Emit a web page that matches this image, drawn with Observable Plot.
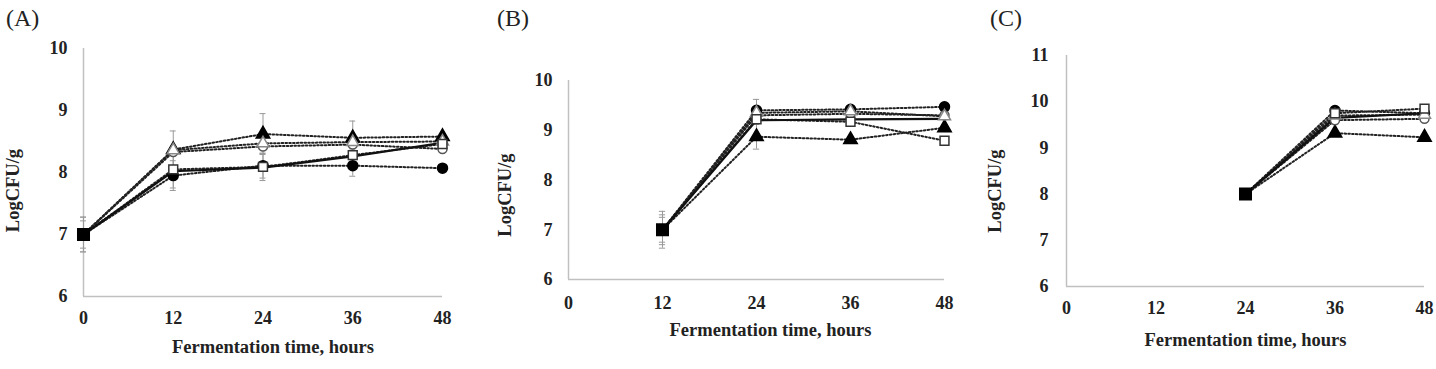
<!DOCTYPE html>
<html>
<head>
<meta charset="utf-8">
<script src="https://cdn.jsdelivr.net/npm/d3@7"></script>
<script src="https://cdn.jsdelivr.net/npm/@observablehq/plot@0.6"></script>
<style>
  html, body { margin: 0; padding: 0; background: #fff; }
  #root { position: relative; width: 1436px; height: 369px; overflow: hidden; }
  .panel { position: absolute; top: 0; }
  .tag { height: 30px; line-height: 36px; font-family: "Liberation Serif", serif; font-size: 24px; color: #222; }
</style>
</head>
<body>
<div id="root"></div>
<script>
// ---------------- data ----------------
const panelTags = ["(A)", "(B)", "(C)"];
const xTicks = [0, 12, 24, 36, 48];
const xTitle = "Fermentation time, hours";
const yTitle = "LogCFU/g";

// Panel A (start at 0 h)
const hoursA = [0, 12, 24, 36, 48];
const A_filledCircle   = [7.00, 7.95, 8.11, 8.11, 8.07];
const A_filledTriangle = [7.00, 8.37, 8.62, 8.56, 8.58];
const A_openCircle     = [7.00, 8.33, 8.42, 8.45, 8.38];
const A_openTriangle   = [7.00, 8.36, 8.47, 8.49, 8.50];
const A_openSquare     = [7.00, 8.05, 8.09, 8.28, 8.46];
const A_control        = [7.00, 8.02, 8.08, 8.26, 8.48];
const A_errTriangle    = [0.28, 0.30, 0.33, 0.27, 0.03];
const A_errCircle      = [0.28, 0.24, 0.20, 0.17, 0.03];
const A_errSquare      = [0.22, 0.30, 0.22, 0.10, 0.05];

// Panel B (start at 12 h)
const hoursB = [12, 24, 36, 48];
const B_filledCircle   = [7.00, 9.40, 9.42, 9.47];
const B_filledTriangle = [7.00, 8.87, 8.81, 9.05];
const B_openCircle     = [7.00, 9.30, 9.33, 9.30];
const B_openTriangle   = [7.00, 9.35, 9.38, 9.28];
const B_openSquare     = [7.00, 9.22, 9.17, 8.79];
const B_control        = [7.00, 9.20, 9.22, 9.23];
const B_errTriangle    = [0.37, 0.25, 0.05, 0.05];
const B_errCircle      = [0.30, 0.22, 0.05, 0.05];
const B_errSquare      = [0.25, 0.10, 0.05, 0.05];

// Panel C (start at 24 h)
const hoursC = [24, 36, 48];
const C_filledCircle   = [8.00, 9.81, 9.75];
const C_filledTriangle = [8.00, 9.32, 9.23];
const C_openCircle     = [8.00, 9.60, 9.63];
const C_openTriangle   = [8.00, 9.70, 9.72];
const C_openSquare     = [8.00, 9.75, 9.85];
const C_control        = [8.00, 9.65, 9.75];

// ---------------- styles ----------------
const seriesStyle = {
  filledCircle:   {symbol: "circle",   fill: "black", stroke: "black", r: 5},
  filledTriangle: {symbol: "triangle", fill: "black", stroke: "black", r: 5},
  openCircle:     {symbol: "circle",   fill: "white", stroke: "#555",  r: 4.5},
  openTriangle:   {symbol: "triangle", fill: "white", stroke: "#888",  r: 4.5},
  openSquare:     {symbol: "square",   fill: "white", stroke: "#333",  r: 5}
};
const dotted = "1.6,2.2";

function rows(hours, values, series, errs) {
  return hours.map((h, i) => ({hour: h, value: values[i], series, err: errs ? errs[i] : 0}));
}

const panels = [
  {
    left: 0, width: 470, tagPad: 6,
    margin: {top: 18, right: 28, bottom: 73, left: 83},
    yDomain: [6, 10], yTicks: [6, 7, 8, 9, 10],
    xPad: 15, yPad: 16, xTitleDx: 10, xTitleDy: 51, yTitleDx: -70, yTitleDy: 18,
    series: {
      filledCircle: rows(hoursA, A_filledCircle, "filledCircle", A_errCircle),
      filledTriangle: rows(hoursA, A_filledTriangle, "filledTriangle", A_errTriangle),
      openCircle: rows(hoursA, A_openCircle, "openCircle"),
      openTriangle: rows(hoursA, A_openTriangle, "openTriangle"),
      openSquare: rows(hoursA, A_openSquare, "openSquare", A_errSquare)
    },
    control: rows(hoursA, A_control, "control")
  },
  {
    left: 480, width: 480, tagPad: 17,
    margin: {top: 50, right: 16, bottom: 90, left: 88},
    yDomain: [6, 10], yTicks: [6, 7, 8, 9, 10],
    xPad: 17, yPad: 16, xTitleDx: 14, xTitleDy: 51, yTitleDx: -63, yTitleDy: 15,
    series: {
      filledCircle: rows(hoursB, B_filledCircle, "filledCircle", B_errCircle),
      filledTriangle: rows(hoursB, B_filledTriangle, "filledTriangle", B_errTriangle),
      openCircle: rows(hoursB, B_openCircle, "openCircle"),
      openTriangle: rows(hoursB, B_openTriangle, "openTriangle"),
      openSquare: rows(hoursB, B_openSquare, "openSquare", B_errSquare)
    },
    control: rows(hoursB, B_control, "control")
  },
  {
    left: 960, width: 476, tagPad: 30,
    margin: {top: 25, right: 12, bottom: 83, left: 106},
    yDomain: [6, 11], yTicks: [6, 7, 8, 9, 10, 11],
    xPad: 15, yPad: 18, xTitleDx: 0, xTitleDy: 54, yTitleDx: -71, yTitleDy: 20,
    series: {
      filledCircle: rows(hoursC, C_filledCircle, "filledCircle"),
      filledTriangle: rows(hoursC, C_filledTriangle, "filledTriangle"),
      openCircle: rows(hoursC, C_openCircle, "openCircle"),
      openTriangle: rows(hoursC, C_openTriangle, "openTriangle"),
      openSquare: rows(hoursC, C_openSquare, "openSquare")
    },
    control: rows(hoursC, C_control, "control")
  }
];

const root = document.getElementById("root");
const svgHeight = 339;

panels.forEach((p, idx) => {
  const div = document.createElement("div");
  div.className = "panel";
  div.style.left = p.left + "px";
  div.style.width = p.width + "px";
  const tag = document.createElement("div");
  tag.className = "tag";
  tag.style.paddingLeft = p.tagPad + "px";
  tag.textContent = panelTags[idx];
  div.appendChild(tag);

  const allRows = Object.values(p.series).flat();
  const errRows = allRows.filter(d => d.err > 0);
  const marks = [
    Plot.ruleX([0], {stroke: "#c0c0c0", strokeWidth: 1.5}),
    Plot.ruleY([p.yDomain[0]], {stroke: "#c0c0c0", strokeWidth: 1.5}),
    Plot.ruleX(errRows, {x: "hour", y1: d => d.value - d.err, y2: d => d.value + d.err, stroke: "#999", strokeWidth: 1}),
    Plot.ruleY(errRows, {y: d => d.value + d.err, x1: d => d.hour - 0.4, x2: d => d.hour + 0.4, stroke: "#999", strokeWidth: 1}),
    Plot.ruleY(errRows, {y: d => d.value - d.err, x1: d => d.hour - 0.4, x2: d => d.hour + 0.4, stroke: "#999", strokeWidth: 1}),
  ];
  Object.entries(p.series).forEach(([k, data]) => {
    marks.push(Plot.line(data, {x: "hour", y: "value", stroke: "#222", strokeWidth: 2, strokeDasharray: dotted}));
  });
  marks.push(Plot.line(p.control, {x: "hour", y: "value", stroke: "#111", strokeWidth: 2.2}));
  Object.entries(p.series).forEach(([k, data]) => {
    const s = seriesStyle[k];
    marks.push(Plot.dot(data.slice(1), {x: "hour", y: "value", symbol: s.symbol, r: s.r, fill: s.fill, stroke: s.stroke, strokeWidth: 1.5}));
  });
  marks.push(Plot.dot(p.control.slice(0, 1), {x: "hour", y: "value", symbol: "square", r: 6.5, fill: "black", stroke: "black"}));
  marks.push(Plot.axisX({ticks: xTicks, tickSize: 0, tickPadding: p.xPad, tickFormat: d => String(d), label: null, fontSize: 18}));
  marks.push(Plot.axisY({ticks: p.yTicks, tickSize: 0, tickPadding: p.yPad, tickFormat: d => String(d), label: null, fontSize: 18}));
  marks.push(Plot.text([xTitle], {text: d => d, frameAnchor: "bottom", dx: p.xTitleDx, dy: p.xTitleDy, lineAnchor: "middle", fontSize: 18.5, fontWeight: "bold", fill: "#222"}));
  marks.push(Plot.text([yTitle], {text: d => d, frameAnchor: "left", rotate: -90, dx: p.yTitleDx, dy: p.yTitleDy, lineAnchor: "middle", textAnchor: "middle", fontSize: 18.5, fontWeight: "bold", fill: "#222"}));

  const chart = Plot.plot({
    width: p.width,
    height: svgHeight,
    marginTop: p.margin.top,
    marginRight: p.margin.right,
    marginBottom: p.margin.bottom,
    marginLeft: p.margin.left,
    x: {domain: [0, 48]},
    y: {domain: p.yDomain},
    style: {fontFamily: "Liberation Serif, serif", fontWeight: "bold", fontSize: "18px", color: "#222", background: "white", overflow: "visible"},
    marks
  });
  div.appendChild(chart);
  root.appendChild(div);
});
</script>
</body>
</html>
